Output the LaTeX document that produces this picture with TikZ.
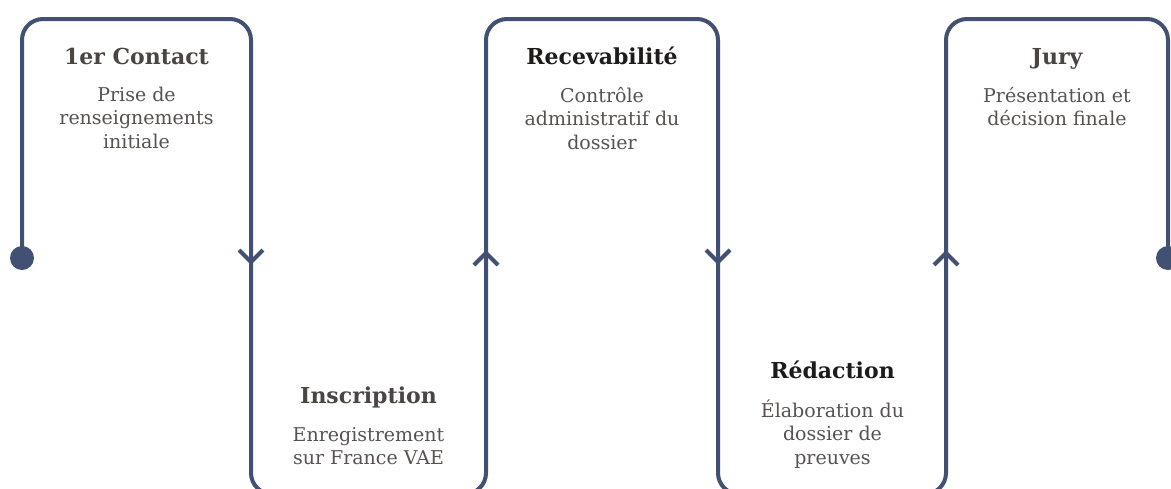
\documentclass[tikz,border=0pt]{standalone}
\usepackage{fontspec}
\setmainfont{DejaVu Serif}
\definecolor{bleutrait}{HTML}{425073}
\definecolor{titregris}{HTML}{4A4543}
\definecolor{titrenoir}{HTML}{1E1B1B}
\definecolor{corpsgris}{HTML}{57524F}
% fixed height for the first line of a body text
\newcommand{\hautligne}{\rule{0pt}{18pt}}

\begin{document}
\begin{tikzpicture}[x=1pt,y=1pt,yscale=-1,xscale=1,
  trait/.style={draw=bleutrait, line width=4pt},
  titre/.style={font=\bfseries\fontsize{22}{26}\selectfont, text=titregris, inner sep=0pt, anchor=base},
  corps/.style={font=\fontsize{19}{23.5}\selectfont, text=corpsgris, align=center, inner sep=0pt, anchor=north}]
\useasboundingbox (0,0) rectangle (1171,488);
\clip (0,0) rectangle (1171,488);

%Points of the path
\coordinate (depart) at (22,258);
\coordinate (arrivee) at (1168,258);

%Serpentine line
\draw [trait, rounded corners=21] (depart) -- (22,19) -- (251,19) -- (251,494) -- (486,494) -- (486,19) -- (718,19) -- (718,494) -- (946,494) -- (946,19) -- (1168,19) -- (arrivee) ;
%Dots at both ends
\fill [bleutrait] (depart) circle (12pt) ;
\fill [bleutrait] (arrivee) circle (12pt) ;

%Chevrons
\draw [trait, line join=miter] (239,250) -- (251,262) -- (263,250) ;
\draw [trait, line join=miter] (474,265) -- (486,253) -- (498,265) ;
\draw [trait, line join=miter] (706,250) -- (718,262) -- (730,250) ;
\draw [trait, line join=miter] (934,265) -- (946,253) -- (958,265) ;

% Text Node
\node [titre] (contact) at (136.5,64) {1er Contact};
\node [corps] (contactb) at (136.5,83) {\hautligne Prise de\\renseignements\\initiale};
% Text Node
\node [titre] (inscr) at (368.5,403) {Inscription};
\node [corps] (inscrb) at (368.5,423) {\hautligne Enregistrement\\sur France VAE};
% Text Node
\node [titre, text=titrenoir] (recev) at (602,64) {Recevabilité};
\node [corps] (recevb) at (602,84) {\hautligne Contrôle\\administratif du\\dossier};
% Text Node
\node [titre, text=titrenoir] (redac) at (832.5,378) {Rédaction};
\node [corps] (redacb) at (832.5,399) {\hautligne Élaboration du\\dossier de\\preuves};
% Text Node
\node [titre] (jury) at (1057,64) {Jury};
\node [corps] (juryb) at (1057,84) {\hautligne Présentation et\\décision finale};

\end{tikzpicture}
\end{document}
